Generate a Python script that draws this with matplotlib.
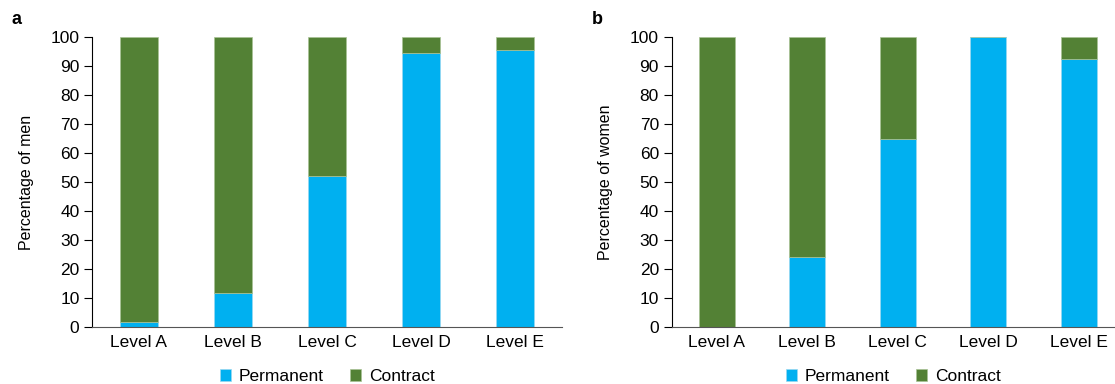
import matplotlib.pyplot as plt
import numpy as np

plt.rcParams['font.family'] = ['Liberation Sans', 'DejaVu Sans']

levels = ["Level A", "Level B", "Level C", "Level D", "Level E"]
men_permanent = [1.6, 11.7, 52.0, 94.4, 95.4]
women_permanent = [0.0, 24.1, 65.0, 100.0, 92.3]

blue = "#00B0F0"
green = "#538135"

fig = plt.figure(figsize=(11.15, 3.84), dpi=100)
ax_a = fig.add_axes([92 / 1115, 57 / 384, 470 / 1115, 290 / 384])
ax_b = fig.add_axes([671.5 / 1115, 57 / 384, 443.5 / 1115, 290 / 384])


def draw_panel(ax, permanent, ylabel, xmax):
    x = np.arange(len(levels))
    permanent = np.array(permanent)
    contract = 100 - permanent
    ax.bar(x, permanent, width=0.4, color=blue, edgecolor="#9ad8f0", linewidth=0.5,
           label="Permanent")
    ax.bar(x, contract, bottom=permanent, width=0.4, color=green, edgecolor="#a9c295",
           linewidth=0.5, label="Contract")
    ax.set_xlim(-0.5, xmax)
    ax.set_ylim(0, 100)
    ax.set_yticks(range(0, 101, 10))
    ax.set_xticks(x)
    ax.set_xticklabels(levels, fontsize=12.5)
    ax.tick_params(axis="x", length=0, pad=6)
    ax.tick_params(axis="y", length=6, width=0.8, labelsize=12.5, pad=3)
    ax.spines["top"].set_visible(False)
    ax.spines["right"].set_visible(False)
    ax.spines["bottom"].set_color("#555555")
    ax.set_ylabel(ylabel, fontsize=11.5, labelpad=12)
    ax.legend(loc="center", bbox_to_anchor=(0.5, -0.172), ncol=2, frameon=False,
              fontsize=12.5, handlelength=0.65, handleheight=0.65, columnspacing=1.5,
              handletextpad=0.45)


draw_panel(ax_a, men_permanent, "Percentage of men", 4.5)
draw_panel(ax_b, women_permanent, "Percentage of women", 4.4)

fig.text(12 / 1115, 1 - 20 / 384, "a", fontsize=13, fontweight="bold", va="center")
fig.text(592 / 1115, 1 - 20 / 384, "b", fontsize=13, fontweight="bold", va="center")

fig.savefig("out.png", dpi=100)
